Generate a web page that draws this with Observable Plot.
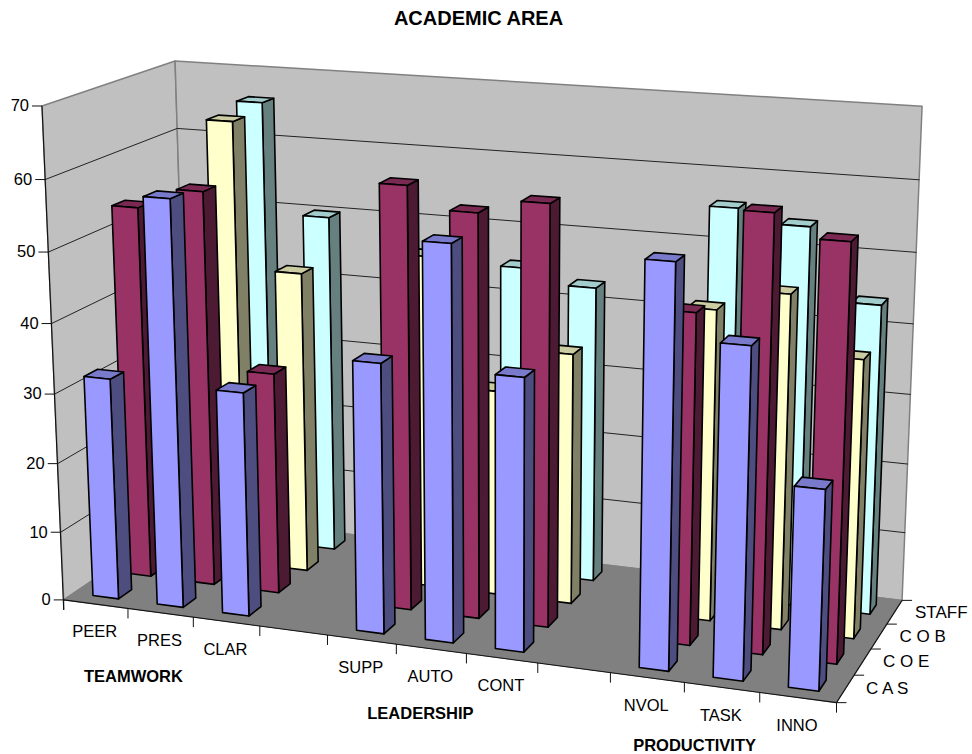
<!DOCTYPE html>
<html>
<head>
<meta charset="utf-8">
<script src="https://cdn.jsdelivr.net/npm/d3@7"></script>
<script src="https://cdn.jsdelivr.net/npm/@observablehq/plot@0.6"></script>
<style>
  html, body { margin: 0; background: #fff; }
  svg { display: block; }
</style>
</head>
<body>
<div id="chart"></div>
<script>
// Category slots along the front edge; the two blanks separate the three groups.
const slots = ["PEER", "PRES", "CLAR", " ", "SUPP", "AUTO", "CONT", "  ", "NVOL", "TASK", "INNO"];
const seriesNames = ["C A S", "C O E", "C O B", "STAFF"];
const valueTicks = [0, 10, 20, 30, 40, 50, 60, 70];

// Survey scores per academic area, one list per series, in slot order.
const casValues   = [32, 58, 32, 0, 38, 55, 38, 0, 55, 45, 27.2];
const coeValues   = [54, 57, 32, 0, 60, 57, 59, 0, 46, 60, 57];
const cobValues   = [45, 65, 44, 0, 48, 29.7, 36, 0, 44, 47, 39];
const staffValues = [48, 66, 50, 0, 46, 45, 43, 0, 55.8, 54, 44];
const seriesValues = [casValues, coeValues, cobValues, staffValues];

const frontColors = ["#9999FF", "#993366", "#FFFFCC", "#CCFFFF"];
const sideColors  = ["#4D4D80", "#4D1A33", "#808066", "#668080"];
const topColors   = ["#7A7ACC", "#7A2952", "#CCCCA3", "#A3CCCC"];

const groupLabels = [
  {name: "TEAMWORK", slot: 1.1, drop: 67.5},
  {name: "LEADERSHIP", slot: 5.36, drop: 66},
  {name: "PRODUCTIVITY", slot: 9.15, drop: 62}
];

// Camera: a projective map from the unit box (u along categories, v into depth,
// w up) to the page, fitted by least squares to where the box corners sit.
const cameraFit = [
  [0, 0, 0, 63, 600], [1, 0, 0, 835.7, 702], [1, 1, 0, 901.7, 600], [0, 1, 0, 189, 514],
  [0, 0, 1, 42, 105], [0, 1, 1, 174, 61], [1, 1, 1, 921.7, 105.7]
];
function fitCamera(rows) {
  const A = [], b = [];
  for (const [u, v, w, x, y] of rows) {
    A.push([u, v, w, 1, 0, 0, 0, 0, -x * u, -x * v, -x * w]); b.push(x);
    A.push([0, 0, 0, 0, u, v, w, 1, -y * u, -y * v, -y * w]); b.push(y);
  }
  const n = 11;
  const M = d3.range(n).map(i => d3.range(n + 1).map(j =>
    j < n ? d3.sum(A, r => r[i] * r[j]) : d3.sum(A, (r, k) => r[i] * b[k])));
  for (let i = 0; i < n; i++) {
    let p = i;
    for (let r = i + 1; r < n; r++) if (Math.abs(M[r][i]) > Math.abs(M[p][i])) p = r;
    [M[i], M[p]] = [M[p], M[i]];
    for (let r = 0; r < n; r++) {
      if (r === i) continue;
      const f = M[r][i] / M[i][i];
      for (let c = i; c <= n; c++) M[r][c] -= f * M[i][c];
    }
  }
  return d3.range(n).map(i => M[i][n] / M[i][i]);
}
const cam = fitCamera(cameraFit);
function project(u, v, w) {
  const d = cam[8] * u + cam[9] * v + cam[10] * w + 1;
  return [(cam[0] * u + cam[1] * v + cam[2] * w + cam[3]) / d,
          (cam[4] * u + cam[5] * v + cam[6] * w + cam[7]) / d];
}

// The chart's three axes, as Plot scales onto the unit box.
const uScale = Plot.scale({x: {type: "band", domain: slots, range: [0, 1], paddingInner: 0.6, paddingOuter: 0.3, round: false}});
const vScale = Plot.scale({x: {type: "band", domain: seriesNames, range: [0, 1], paddingInner: 0.6, paddingOuter: 0.3, round: false}});
const wScale = Plot.scale({y: {type: "linear", domain: [0, 70], range: [0, 1]}});
const uStep = 1 / slots.length, vStep = 1 / seriesNames.length;

function polygon(id, color, corners) {
  return corners.map(([u, v, w]) => {
    const [px, py] = project(u, v, w);
    return {id, color, px, py};
  });
}

// One box per score; rows run back to front so nearer bars paint over farther ones.
const barFaces = [];
for (let j = seriesNames.length - 1; j >= 0; j--) {
  slots.forEach((slot, i) => {
    const value = seriesValues[j][i];
    if (!value) return;
    const u0 = uScale.apply(slot), u1 = u0 + uScale.bandwidth;
    const v0 = vScale.apply(seriesNames[j]), v1 = v0 + vScale.bandwidth;
    const w = wScale.apply(value);
    barFaces.push(
      ...polygon(`${i}-${j}-side`, sideColors[j], [[u1, v0, 0], [u1, v1, 0], [u1, v1, w], [u1, v0, w]]),
      ...polygon(`${i}-${j}-top`, topColors[j], [[u0, v0, w], [u1, v0, w], [u1, v1, w], [u0, v1, w]]),
      ...polygon(`${i}-${j}-front`, frontColors[j], [[u0, v0, 0], [u1, v0, 0], [u1, v0, w], [u0, v0, w]])
    );
  });
}

const leftWall = polygon("left", "#C0C0C0", [[0, 0, 0], [0, 1, 0], [0, 1, 1], [0, 0, 1]]);
const backWall = polygon("back", "#C0C0C0", [[0, 1, 0], [1, 1, 0], [1, 1, 1], [0, 1, 1]]);
const floor = polygon("floor", "#808080", [[0, 0, 0], [1, 0, 0], [1, 1, 0], [0, 1, 0]]);

const gridLines = valueTicks.slice(1, -1).flatMap(t => {
  const w = wScale.apply(t);
  return polygon(`g${t}`, "none", [[0, 0, w], [0, 1, w], [1, 1, w]]);
});

const pt = (u, v, w) => { const [x, y] = project(u, v, w); return {x, y}; };
const valueTickRows = valueTicks.map(t => ({t, ...pt(0, 0, wScale.apply(t))}));
const slotTickRows = d3.range(slots.length + 1).map(k => pt(k * uStep, 0, 0));
const depthTickRows = d3.range(seriesNames.length + 1).map(k => pt(1, k * vStep, 0));
const slotLabelRows = slots.map((name, i) => ({name, ...pt((i + 0.5) * uStep, 0, 0)})).filter(d => d.name.trim());
const depthLabelRows = seriesNames.map((name, j) => ({name, ...pt(1, (j + 0.5) * vStep, 0)}));
const groupRows = groupLabels.map(g => ({...g, ...pt(g.slot * uStep, 0, 0)}));

const font = "Liberation Sans, Arial, sans-serif";
const textStyle = {fontFamily: font, fontSize: 16.5, fill: "#000", lineAnchor: "middle"};
const frame = {x: "px", y: "py", z: "id", curve: "linear-closed"};

const chart = Plot.plot({
  width: 972,
  height: 754,
  margin: 0,
  x: {type: "identity", axis: null},
  y: {type: "identity", axis: null},
  color: {type: "identity"},
  marks: [
    Plot.line([...leftWall, ...backWall], {...frame, fill: "color", stroke: "#808080", strokeWidth: 1.5}),
    Plot.line(gridLines, {x: "px", y: "py", z: "id", stroke: "#222", strokeWidth: 1}),
    Plot.line(floor, {...frame, fill: "color", stroke: "#808080", strokeWidth: 1}),
    // Axis lines and tick marks
    Plot.link([valueTickRows[0]], {x1: "x", y1: d => d.y + 10, x2: valueTickRows[7].x, y2: valueTickRows[7].y, stroke: "#111", strokeWidth: 1.1}),
    Plot.link([0], {x1: () => slotTickRows[0].x, y1: () => slotTickRows[0].y, x2: () => slotTickRows[11].x, y2: () => slotTickRows[11].y, stroke: "#111", strokeWidth: 1.1}),
    Plot.link([0], {x1: () => depthTickRows[0].x, y1: () => depthTickRows[0].y, x2: () => depthTickRows[4].x, y2: () => depthTickRows[4].y, stroke: "#111", strokeWidth: 1.1}),
    Plot.link(valueTickRows, {x1: "x", y1: "y", x2: d => d.x - 10, y2: "y", stroke: "#111", strokeWidth: 1}),
    Plot.link(slotTickRows, {x1: "x", y1: "y", x2: "x", y2: d => d.y + 10, stroke: "#111", strokeWidth: 1}),
    Plot.link(depthTickRows, {x1: "x", y1: "y", x2: d => d.x + 10, y2: "y", stroke: "#111", strokeWidth: 1}),
    // Bars
    Plot.line(barFaces, {...frame, fill: "color", stroke: "#000", strokeWidth: 1.6, strokeLinejoin: "round"}),
    // Labels
    Plot.text(valueTickRows, {x: d => d.x - 13, y: "y", text: d => String(d.t), textAnchor: "end", ...textStyle}),
    Plot.text(slotLabelRows, {x: d => d.x - 1, y: d => d.y + 28, text: "name", ...textStyle}),
    Plot.text(depthLabelRows, {x: d => d.x + 20.5, y: "y", text: "name", textAnchor: "start", ...textStyle, fontSize: 17}),
    Plot.text(groupRows, {x: d => d.x - 1, y: d => d.y + d.drop, text: "name", ...textStyle, fontWeight: "bold"}),
    Plot.text(["ACADEMIC AREA"], {x: () => 478, y: () => 18, text: d => d, ...textStyle, fontSize: 20, fontWeight: "bold"})
  ]
});
document.getElementById("chart").append(chart);
</script>
</body>
</html>
